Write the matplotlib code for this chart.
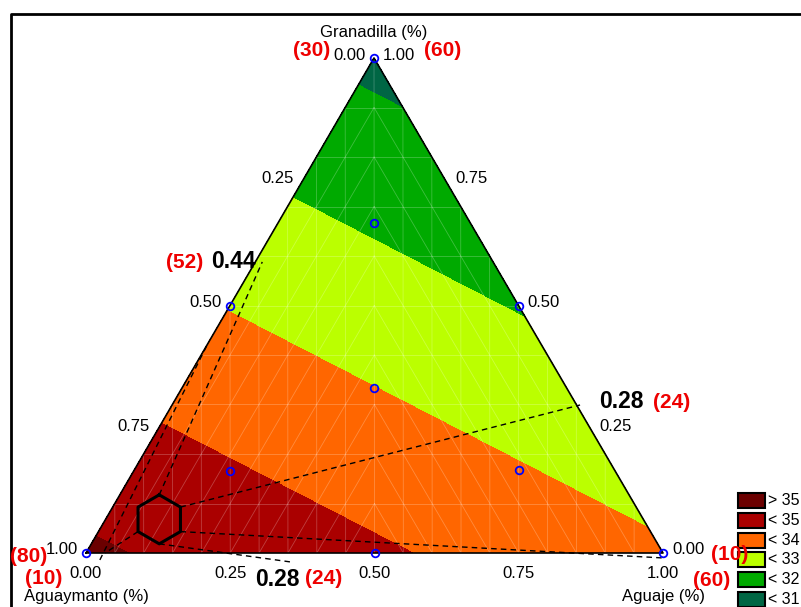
import numpy as np
import matplotlib.pyplot as plt
import matplotlib.tri as mtri
from matplotlib.patches import Rectangle

plt.rcParams['font.family'] = ['Liberation Sans', 'DejaVu Sans']

# linear mixture model (Aguaymanto, Granadilla, Aguaje)
coef_aguaymanto = 35.15
coef_granadilla = 30.76
coef_aguaje = 33.12
levels = [30, 31, 32, 33, 34, 35, 36]
band_colors = ['#006644', '#00AA00', '#BBFF00', '#FF6600', '#AA0000', '#6B0000']
legend_labels = ['> 35', '< 35', '< 34', '< 33', '< 32', '< 31']

# design points (Aguaymanto, Granadilla, Aguaje)
design_points = [(1, 0, 0), (0, 1, 0), (0, 0, 1),
                 (.5, .5, 0), (.5, 0, .5), (0, .5, .5), (1/3, 1/3, 1/3),
                 (2/3, 1/6, 1/6), (1/6, 2/3, 1/6), (1/6, 1/6, 2/3)]
optimum = (0.839, 0.068, 0.093)
tick_values = [0.0, 0.25, 0.5, 0.75, 1.0]
tick_labels = ['0.00', '0.25', '0.50', '0.75', '1.00']

# dashed guides: hexagon vertex index -> end point (ternary)
guides = [(0, (0.400, 0.588, 0.012)),
          (1, (-0.006, 0.299, 0.707)),
          (2, (0.005, -0.010, 1.005)),
          (3, (0.655, -0.018, 0.363)),
          (4, (0.967, 0.0, 0.033))]
extra_guides = [((0.983, -0.014, 0.031), (0.578, 0.422, 0.0))]

# corner positions of the triangle on the page (pixels)
VA = (86.0, 553.0)
VG = (374.0, 58.0)
VJ = (663.0, 553.0)


def tern(a, g, j):
    x = a * VA[0] + g * VG[0] + j * VJ[0]
    y = a * VA[1] + g * VG[1] + j * VJ[1]
    return x, y


fig = plt.figure(figsize=(8.01, 6.07), dpi=100)
ax = fig.add_axes([0, 0, 1, 1])
ax.set_xlim(0, 801)
ax.set_ylim(607, 0)
ax.axis('off')

# frame of the original window
ax.plot([11, 11, 801], [607, 14, 14], color='black', lw=2, solid_capstyle='butt')

# response bands
n = 60
aa, gg, jj = [], [], []
for i in range(n + 1):
    for k in range(n + 1 - i):
        aa.append(i / n)
        gg.append(k / n)
        jj.append(1 - i / n - k / n)
aa, gg, jj = np.array(aa), np.array(gg), np.array(jj)
xs, ys = tern(aa, gg, jj)
z = coef_aguaymanto * aa + coef_granadilla * gg + coef_aguaje * jj
tri = mtri.Triangulation(xs, ys)
ax.tricontourf(tri, z, levels=levels, colors=band_colors)

# faint mesh seams: rows of 0.1, columns of 0.05, diagonals parallel to the edges
gl = dict(color='white', lw=0.6, alpha=0.25)
for k in range(1, 10):
    g = k / 10
    x0, y0 = tern(1 - g, g, 0)
    x1, y1 = tern(0, g, 1 - g)
    ax.plot([x0, x1], [y0, y1], **gl)
for k in range(1, 20):
    u = k / 20
    g = 2 * min(u, 1 - u)
    x0, y0 = tern(1 - u, 0, u)
    x1, y1 = tern(1 - u - g / 2, g, u - g / 2)
    ax.plot([x0, x1], [y0, y1], **gl)
for k in range(1, 10):
    u = k / 20
    g = 1 - 2 * u
    x0, y0 = tern(1 - u, 0, u)
    x1, y1 = tern(0.5 - g / 2, g, 0.5 - g / 2)
    ax.plot([x0, x1], [y0, y1], **gl)
    x0, y0 = tern(u, 0, 1 - u)
    ax.plot([x0, x1], [y0, y1], **gl)

# outline
ox, oy = tern(np.array([1, 0, 0, 1]), np.array([0, 1, 0, 0]), np.array([0, 0, 1, 0]))
ax.plot(ox, oy, color='black', lw=1.2)

# optimum hexagon and guides
cx, cy = tern(*optimum)
r = 24.5
ang = np.radians(np.arange(0, 360, 60))
hx = cx + r * np.sin(ang)
hy = cy - r * np.cos(ang)
for idx, end in guides:
    ex, ey = tern(*end)
    ax.plot([hx[idx], ex], [hy[idx], ey], color='black', lw=1, dashes=(4, 3))
for s, e in extra_guides:
    sx, sy = tern(*s)
    ex, ey = tern(*e)
    ax.plot([sx, ex], [sy, ey], color='black', lw=1, dashes=(4, 3))
ax.plot(np.append(hx, hx[0]), np.append(hy, hy[0]), color='black', lw=2.2)

# design points
for p in design_points:
    px, py = tern(*p)
    ax.plot(px, py, 'o', mfc='none', mec='blue', mew=1.3, ms=5.5)

# tick labels
for v, lab in zip(tick_values, tick_labels):
    x, y = tern(v, 1 - v, 0)
    ax.text(x - 8, y - 3, lab, ha='right', va='center', fontsize=12)
    x, y = tern(0, v, 1 - v)
    ax.text(x + 9, y - 3, lab, ha='left', va='center', fontsize=12)
    x, y = tern(1 - v, 0, v)
    ax.text(x, y + 20, lab, ha='center', va='center', fontsize=12)

ax.text(374, 33, 'Granadilla (%)', ha='center', va='center', fontsize=12)
ax.text(86, 597, 'Aguaymanto (%)', ha='center', va='center', fontsize=12)
ax.text(663, 597, 'Aguaje (%)', ha='center', va='center', fontsize=12)

red = dict(color='#EE0000', fontweight='bold', fontsize=15, ha='center', va='center')
for x, y, s in [(312, 51, '(30)'), (443, 51, '(60)'), (29, 556, '(80)'), (44, 578, '(10)'),
                (730, 555, '(10)'), (712, 580, '(60)'), (185, 262, '(52)'),
                (672, 402, '(24)'), (324, 579, '(24)')]:
    ax.text(x, y, s, **red)
for x, y, s in [(233, 262, '0.44'), (621, 402, '0.28'), (277, 580, '0.28')]:
    ax.text(x, y, s, color='black', fontweight='bold', fontsize=16.5, ha='center', va='center')

# legend
for i, (lab, col) in enumerate(zip(legend_labels, band_colors[::-1])):
    y = 493 + 19.8 * i
    ax.add_patch(Rectangle((738, y), 27, 15, facecolor=col, edgecolor='black', lw=1.5))
    ax.text(768, y + 7.5, lab, ha='left', va='center', fontsize=11.5)

fig.savefig('out.png', dpi=100)
